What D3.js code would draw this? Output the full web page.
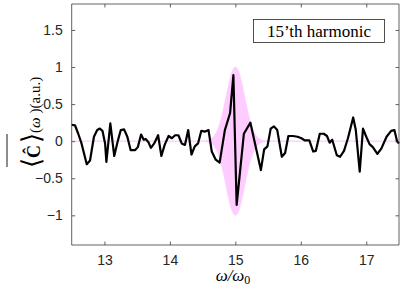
<!DOCTYPE html>
<html>
<head>
<meta charset="utf-8">
<script src="https://cdn.jsdelivr.net/npm/d3@7"></script>
<style>
  body { margin: 0; background: #fff; }
</style>
</head>
<body>
<svg id="graph" width="402" height="295"></svg>
<script>
// omega / omega0 samples of the averaged signal
var omega = [12.5, 12.55, 12.6, 12.65, 12.73, 12.78, 12.84, 12.89, 12.93, 12.97,
  13.01, 13.03, 13.09, 13.15, 13.2, 13.25, 13.3, 13.35, 13.4, 13.47,
  13.51, 13.56, 13.6, 13.63, 13.67, 13.71, 13.76, 13.82, 13.87, 13.92,
  13.98, 14.03, 14.08, 14.13, 14.18, 14.23, 14.28, 14.33, 14.38, 14.43,
  14.48, 14.54, 14.59, 14.64, 14.7, 14.76, 14.84, 14.92, 14.97, 15.02,
  15.13, 15.23, 15.3, 15.39, 15.44, 15.49, 15.54, 15.59, 15.64, 15.71,
  15.76, 15.81, 15.88, 15.95, 16.01, 16.06, 16.13, 16.19, 16.23, 16.29,
  16.35, 16.4, 16.44, 16.48, 16.55, 16.6, 16.66, 16.72, 16.8, 16.84,
  16.9, 16.95, 17.0, 17.05, 17.1, 17.17, 17.23, 17.31, 17.38, 17.43,
  17.47, 17.5];
var signal = [0.22, 0.215, 0.10, -0.03, -0.31, -0.26, 0.06, 0.15, 0.17, 0.14,
  -0.03, -0.28, 0.24, -0.2, -0.01, 0.15, 0.16, 0.06, -0.12, -0.12,
  -0.08, 0.09, 0.02, 0.03, -0.01, -0.09, -0.03, 0.08, -0.2, -0.05,
  0.07, 0.04, 0.08, 0.08, -0.03, -0.05, 0.15, -0.18, -0.07, -0.03,
  0.14, 0.13, 0.15, -0.14, -0.25, -0.29, 0.15, 0.38, 0.89, -0.86,
  0.10, 0.25, -0.03, -0.39, -0.11, -0.07, 0.17, 0.2, 0.15, -0.21,
  -0.16, 0.07, 0.07, 0.06, 0.04, 0.01, 0.01, -0.14, -0.13, 0.1,
  0.1, 0.07, -0.02, 0.02, -0.19, -0.21, -0.13, 0.04, 0.32, 0.15,
  -0.41, 0.17, 0.06, -0.04, -0.08, -0.17, -0.1, 0.06, 0.14, 0.15,
  0.0, -0.03];

// pink envelope of the 15th harmonic
var envOmega = [12.5, 14.5, 14.55, 14.6, 14.65, 14.7, 14.75, 14.8, 14.85, 14.9, 14.95, 15.0,
  15.05, 15.1, 15.15, 15.2, 15.25, 15.3, 15.35, 15.4, 15.45, 15.5, 17.5];
var envelope = [0, 0.002, 0.006, 0.017, 0.044, 0.101, 0.203, 0.36, 0.563, 0.775, 0.938, 1.0,
  0.938, 0.775, 0.563, 0.36, 0.203, 0.101, 0.044, 0.017, 0.006, 0.002, 0];

var xTicks = [13, 14, 15, 16, 17];
var yTicks = [-1, -0.5, 0, 0.5, 1, 1.5];
var legendText = "15\u2019th harmonic";
var yLabelParts = ["\u27e8", "C\u0302", "\u27e9", "(", "\u03c9", ")", "(a.u.)"];

var width = 402, height = 295;
const plot = { left: 71.7, right: 399, top: 4, bottom: 245 };
const SANS = "Liberation Sans";
const SERIF = "Liberation Serif";

const svg = d3.select('#graph');

const x = d3.scaleLinear().domain([12.5, 17.5]).range([plot.left, plot.right]);
const y = d3.scaleLinear().domain([-1.4, 1.85]).range([plot.bottom, plot.top]);

const envData = envOmega.map((w, i) => ({ w: w, e: envelope[i] }));
const lineData = omega.map((w, i) => ({ w: w, v: signal[i] }));

// envelope area
svg.append("path")
  .datum(envData)
  .attr("d", d3.area().x(d => x(d.w)).y0(d => y(-d.e)).y1(d => y(d.e)).curve(d3.curveMonotoneX))
  .attr("fill", "#ffccff")
  .attr("stroke", "#ffccff")
  .attr("stroke-width", 0.8);

// signal line
svg.append("path")
  .datum(lineData)
  .attr("d", d3.line().x(d => x(d.w)).y(d => y(d.v)))
  .attr("fill", "none")
  .attr("stroke", "#000")
  .attr("stroke-width", 2.2)
  .attr("stroke-linejoin", "round");

// axes (box with inward ticks on all sides)
const tickLen = 3.5;
const xAxis = svg.append("g").attr("transform", `translate(0,${plot.bottom})`)
  .call(d3.axisBottom(x).tickValues(xTicks).tickSize(-tickLen).tickPadding(10).tickFormat(d3.format("d")));
const xAxisTop = svg.append("g").attr("transform", `translate(0,${plot.top})`)
  .call(d3.axisTop(x).tickValues(xTicks).tickSize(-tickLen).tickFormat(""));
const yAxis = svg.append("g").attr("transform", `translate(${plot.left},0)`)
  .call(d3.axisLeft(y).tickValues(yTicks).tickSize(-tickLen).tickPadding(9).tickFormat(d => d3.format("")(d)));
const yAxisRight = svg.append("g").attr("transform", `translate(${plot.right},0)`)
  .call(d3.axisRight(y).tickValues(yTicks).tickSize(-tickLen).tickFormat(""));

[xAxis, yAxis, xAxisTop, yAxisRight].forEach(a => a.attr("font-family", SANS).attr("font-size", 14));
svg.selectAll(".domain").attr("stroke", "#3a3a3a").attr("stroke-width", 0.8);
svg.selectAll(".tick line").attr("stroke", "#3a3a3a").attr("stroke-width", 0.8);
svg.selectAll(".tick text").attr("fill", "#262626");
xAxis.select(".domain").attr("d", `M${plot.left},0H${plot.right}`);
xAxisTop.select(".domain").attr("d", `M${plot.left},0H${plot.right}`);
yAxis.select(".domain").attr("d", `M0,${plot.top}V${plot.bottom}`);
yAxisRight.select(".domain").attr("d", `M0,${plot.top}V${plot.bottom}`);

// legend box
svg.append("rect")
  .attr("x", 253.5).attr("y", 19.5).attr("width", 131).attr("height", 23)
  .attr("fill", "#fff").attr("stroke", "#262626").attr("stroke-width", 0.8);
svg.append("text")
  .attr("font-family", SERIF).attr("font-size", 17).attr("fill", "#000")
  .attr("x", 319).attr("y", 36.5)
  .attr("text-anchor", "middle")
  .text(legendText);

// x label
const xl = svg.append("text")
  .attr("font-family", SERIF).attr("font-size", 17).attr("fill", "#000")
  .attr("x", 233).attr("y", 281)
  .attr("text-anchor", "middle");
xl.append("tspan").attr("font-style", "italic").text("\u03c9/\u03c9");
xl.append("tspan").attr("dy", 3).attr("font-size", 12).text("0");

// y label: each piece is its own rotated text, stacked upwards from the bottom
const labelX = 40;
var cursor = 168;  // screen y where the label starts (bottom)
const sizes = [26, 18, 26, 15, 15, 15, 15];
const gaps = [0, 0, 2, 0, 0, 4, 0];
var barStart = cursor, barEnd = cursor;
yLabelParts.forEach((t, i) => {
  cursor -= gaps[i];
  const el = svg.append("text")
    .attr("transform", `translate(${labelX},${cursor}) rotate(-90)`)
    .attr("font-family", SERIF)
    .attr("font-size", sizes[i])
    .attr("font-weight", i == 1 ? "bold" : "normal")
    .attr("font-style", i == 4 ? "italic" : "normal")
    .attr("fill", "#000")
    .text(t);
  cursor -= el.node().getComputedTextLength();
  if (i == 2) barEnd = cursor;
});

// overline over the averaged bracket
svg.append("line")
  .attr("x1", 7).attr("x2", 7)
  .attr("y1", barStart - 1).attr("y2", barEnd + 1)
  .attr("stroke", "#000").attr("stroke-width", 0.9);
</script>
</body>
</html>
